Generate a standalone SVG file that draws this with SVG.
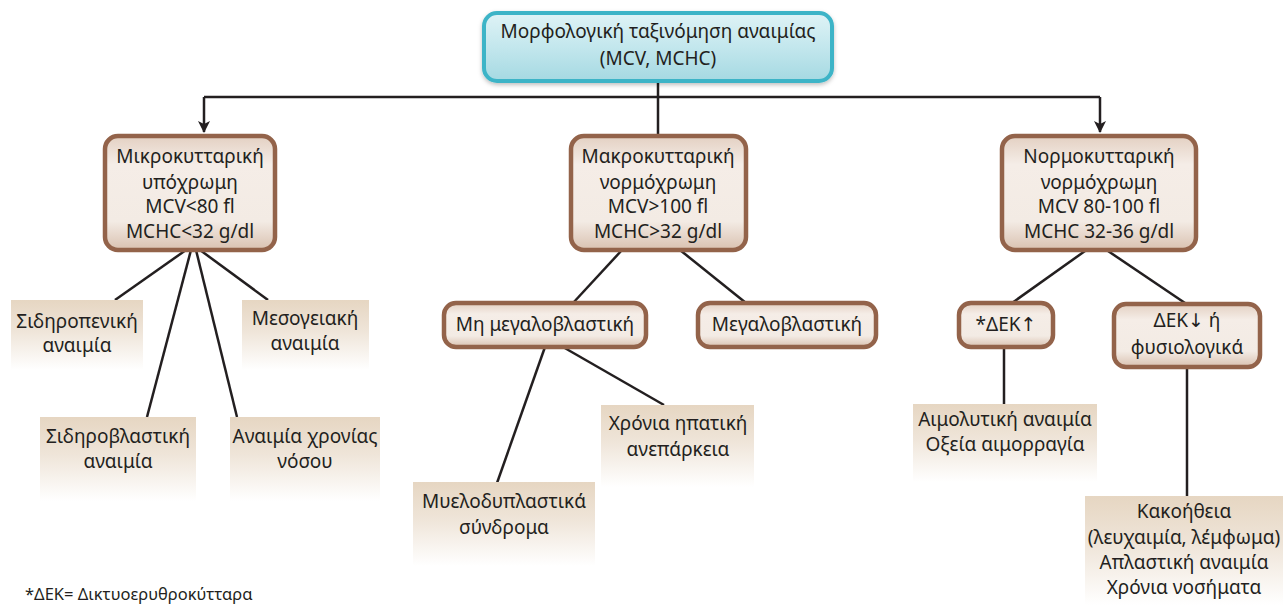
<svg xmlns="http://www.w3.org/2000/svg" width="1283" height="605" viewBox="0 0 1283 605">
<defs>
<linearGradient id="gTop" x1="0" y1="0" x2="0" y2="1">
<stop offset="0" stop-color="#dff3f6"/><stop offset="0.5" stop-color="#c3e7ed"/><stop offset="1" stop-color="#a5d9e2"/>
</linearGradient>
<linearGradient id="gBrown" x1="0" y1="0" x2="0" y2="1">
<stop offset="0" stop-color="#e3d0c2"/><stop offset="0.25" stop-color="#f5ede7"/><stop offset="0.75" stop-color="#f3ebe4"/><stop offset="1" stop-color="#d9c1b0"/>
</linearGradient>
<linearGradient id="gLeaf" x1="0" y1="0" x2="0" y2="1">
<stop offset="0" stop-color="#e6d6c2"/><stop offset="0.45" stop-color="#efe5d9"/><stop offset="1" stop-color="#ffffff"/>
</linearGradient>
<marker id="arr" viewBox="0 0 12 12" refX="11" refY="6" markerWidth="12" markerHeight="12" markerUnits="userSpaceOnUse" orient="auto">
<path d="M0,0 L12,6 L0,12 L3,6 Z" fill="#231f20"/>
</marker>
<filter id="sh" x="-10%" y="-10%" width="120%" height="130%">
<feDropShadow dx="0" dy="2" stdDeviation="2" flood-color="#000" flood-opacity="0.25"/>
</filter>
</defs>
<style>
text{font-family:"Noto Sans","Open Sans","DejaVu Sans",sans-serif;font-size:19px;fill:#231f20;text-anchor:middle}
.top{fill:url(#gTop);stroke:#3db4c7;stroke-width:4}
.br{fill:url(#gBrown);stroke:#93634a;stroke-width:4.5}
.leaf{fill:url(#gLeaf)}
.c{stroke:#231f20;stroke-width:2.5;fill:none}
.fn{font-size:16.5px;text-anchor:start}
</style>

<g id="connectors">
<path class="c" d="M658,82 V97"/>
<path class="c" d="M204,97 H1100"/>
<path class="c" d="M204,97 V132" marker-end="url(#arr)"/>
<path class="c" d="M1100,97 V132" marker-end="url(#arr)"/>
<path class="c" d="M658,97 V136"/>
<path class="c" d="M186,250 L115,300"/>
<path class="c" d="M191,250 L147,417"/>
<path class="c" d="M196,250 L237,417"/>
<path class="c" d="M200,250 L268,300"/>
<path class="c" d="M622,250 L573,303"/>
<path class="c" d="M680,250 L746,303"/>
<path class="c" d="M545,347 L497,483"/>
<path class="c" d="M563,347 L664,405"/>
<path class="c" d="M1085,251 L1012,303"/>
<path class="c" d="M1108,251 L1185,303"/>
<path class="c" d="M1004,347 V404"/>
<path class="c" d="M1187,368 V497"/>
</g>

<g id="n-root">
<rect class="top" x="484" y="13" width="348" height="68" rx="13" filter="url(#sh)"/>
<text x="658" y="38">Μορφολογική ταξινόμηση αναιμίας</text>
<text x="658" y="65">(MCV, MCHC)</text>
</g>

<g id="n-micro">
<rect class="br" x="105" y="136" width="170" height="114" rx="13"/>
<text x="190" y="163">Μικροκυτταρική</text>
<text x="190" y="189">υπόχρωμη</text>
<text x="190" y="213">MCV&lt;80 fl</text>
<text x="190" y="238">MCHC&lt;32 g/dl</text>
</g>

<g id="n-macro">
<rect class="br" x="571" y="136" width="175" height="114" rx="13"/>
<text x="658" y="163">Μακροκυτταρική</text>
<text x="658" y="189">νορμόχρωμη</text>
<text x="658" y="213">MCV&gt;100 fl</text>
<text x="658" y="238">MCHC&gt;32 g/dl</text>
</g>

<g id="n-normo">
<rect class="br" x="1002" y="136" width="194" height="114" rx="13"/>
<text x="1099" y="163">Νορμοκυτταρική</text>
<text x="1099" y="189">νορμόχρωμη</text>
<text x="1099" y="213">MCV 80-100 fl</text>
<text x="1099" y="238">MCHC 32-36 g/dl</text>
</g>

<g id="n-sideropeniki">
<rect class="leaf" x="11" y="300" width="132" height="70"/>
<text x="77" y="328">Σιδηροπενική</text>
<text x="77" y="352">αναιμία</text>
</g>

<g id="n-mesogeiaki">
<rect class="leaf" x="242" y="300" width="127" height="70"/>
<text x="305" y="325">Μεσογειακή</text>
<text x="305" y="350">αναιμία</text>
</g>

<g id="n-siderovlastiki">
<rect class="leaf" x="40" y="417" width="156" height="84"/>
<text x="118" y="443">Σιδηροβλαστική</text>
<text x="118" y="468">αναιμία</text>
</g>

<g id="n-chronia-nosou">
<rect class="leaf" x="230" y="417" width="150" height="84"/>
<text x="305" y="443">Αναιμία χρονίας</text>
<text x="305" y="468">νόσου</text>
</g>

<g id="n-mi-megalo">
<rect class="br" x="444" y="303" width="202" height="44" rx="12"/>
<text x="545" y="331">Μη μεγαλοβλαστική</text>
</g>

<g id="n-megalo">
<rect class="br" x="698" y="303" width="178" height="44" rx="12"/>
<text x="787" y="331">Μεγαλοβλαστική</text>
</g>

<g id="n-ipatiki">
<rect class="leaf" x="601" y="405" width="153" height="82"/>
<text x="678" y="430">Χρόνια ηπατική</text>
<text x="678" y="456">ανεπάρκεια</text>
</g>

<g id="n-myelo">
<rect class="leaf" x="413" y="482" width="182" height="84"/>
<text x="504" y="508">Μυελοδυπλαστικά</text>
<text x="504" y="534">σύνδρομα</text>
</g>

<g id="n-dek-up">
<rect class="br" x="959" y="303" width="94" height="44" rx="12"/>
<text x="1006" y="331">*ΔΕΚ↑</text>
</g>

<g id="n-dek-down">
<rect class="br" x="1114" y="304" width="146" height="63" rx="12"/>
<text x="1187" y="327">ΔΕΚ↓ ή</text>
<text x="1187" y="354">φυσιολογικά</text>
</g>

<g id="n-aimolytiki">
<rect class="leaf" x="913" y="404" width="184" height="78"/>
<text x="1005" y="426">Αιμολυτική αναιμία</text>
<text x="1005" y="451">Οξεία αιμορραγία</text>
</g>

<g id="n-kakoitheia">
<rect class="leaf" x="1085" y="496" width="198" height="109"/>
<text x="1184" y="518">Κακοήθεια</text>
<text x="1184" y="544">(λευχαιμία, λέμφωμα)</text>
<text x="1184" y="569">Απλαστική αναιμία</text>
<text x="1184" y="594">Χρόνια νοσήματα</text>
</g>

<text class="fn" x="25" y="600">*ΔΕΚ= Δικτυοερυθροκύτταρα</text>
</svg>
